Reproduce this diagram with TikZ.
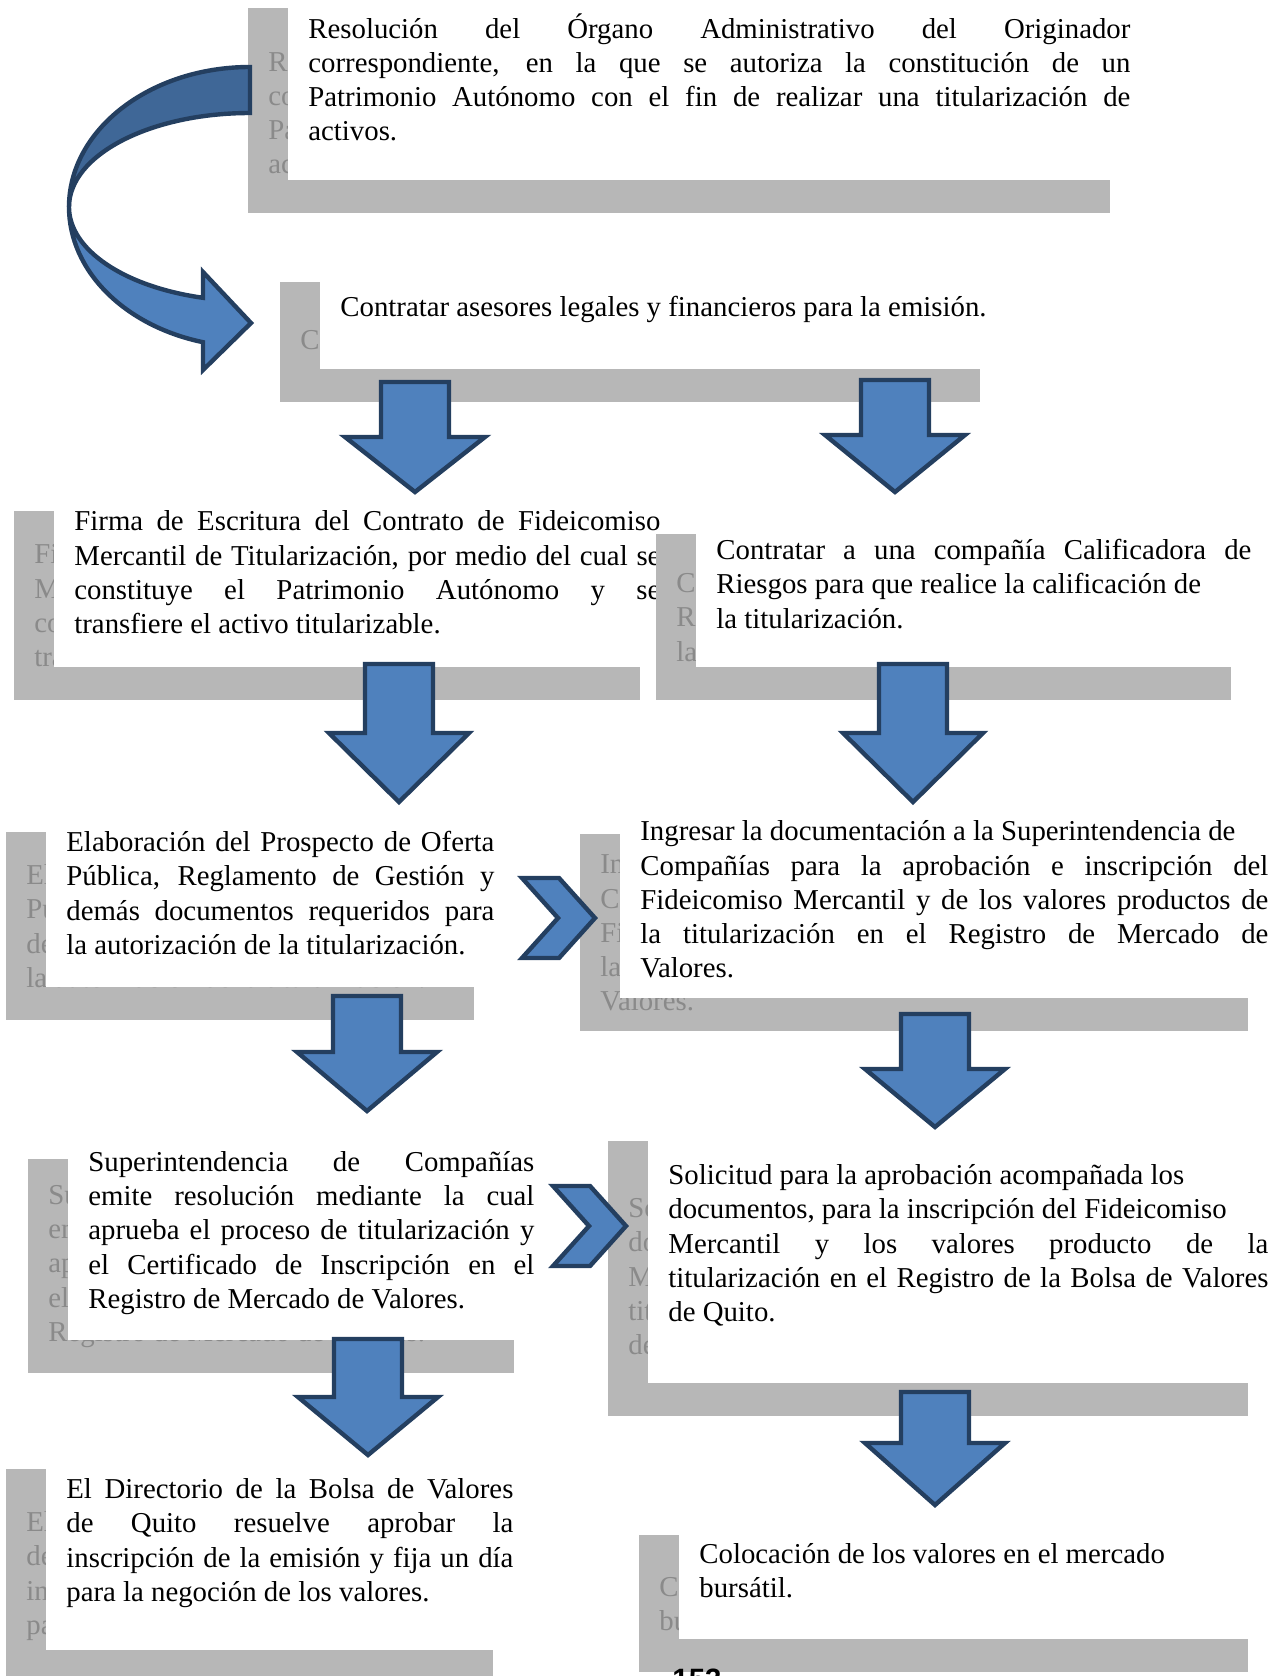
\documentclass[tikz,border=0pt]{standalone}
\usepackage{fontspec}
\setmainfont{Liberation Serif}
\newfontfamily\pagfont{Liberation Sans}
\definecolor{AzulPaso}{HTML}{4F81BD}
\definecolor{AzulOscuro}{HTML}{3F6797}
\definecolor{BordeAzul}{HTML}{243F60}
\definecolor{GrisSombra}{HTML}{B7B7B7}
\definecolor{GrisTexto}{HTML}{8A8A8A}
\newcommand\lj[1]{\makebox[\hsize][s]{#1}\\}
\tikzset{
  sombra/.style={fill=GrisSombra},
  texto/.style={inner sep=0pt,align=justify,font=\fontsize{14.4}{17.1}\selectfont},
  fantasma/.style={texto,text=GrisTexto},
  bloque/.style={draw=BordeAzul,line width=2.2pt,fill=AzulPaso,line join=miter}
}

\begin{document}
\begin{tikzpicture}[x=0.5pt,y=-0.5pt]
\useasboundingbox (0,0) rectangle (1280,1676);
% pasos: sombra gris con texto, caja blanca encima
\foreach \n/\x/\y/\w/\h/\txt in {
 1/288/-25/862/205/{\lj{Resolución del Órgano Administrativo del Originador}\lj{correspondiente, en la que se autoriza la constitución de un}\lj{Patrimonio Autónomo con el fin de realizar una titularización de}activos.},
 2/320/249/700/120/{Contratar asesores legales y financieros para la emisión.},
 3/54/478/626/189/{\lj{Firma de Escritura del Contrato de Fideicomiso}\lj{Mercantil de Titularización, por medio del cual se}\lj{constituye el Patrimonio Autónomo y se}transfiere el activo titularizable.},
 4/696/501/575/166/{\lj{Contratar a una compañía Calificadora de}Riesgos para que realice la calificación de\\la titularización.},
 5/46/799/468/188/{\lj{Elaboración del Prospecto de Oferta}\lj{Pública, Reglamento de Gestión y}\lj{demás documentos requeridos para}la autorización de la titularización.},
 6/620/801/668/197/{Ingresar la documentación a la Superintendencia de\\\lj{Compañías para la aprobación e inscripción del}\lj{Fideicomiso Mercantil y de los valores productos de}\lj{la titularización en el Registro de Mercado de}Valores.},
 7/68/1126/486/214/{\lj{Superintendencia de Compañías}\lj{emite resolución mediante la cual}\lj{aprueba el proceso de titularización y}\lj{el Certificado de Inscripción en el}Registro de Mercado de Valores.},
 8/648/1108/640/275/{Solicitud para la aprobación acompañada los\\documentos, para la inscripción del Fideicomiso\\\lj{Mercantil y los valores producto de la}\lj{titularización en el Registro de la Bolsa de Valores}de Quito.},
 9/46/1436/487/214/{\lj{El Directorio de la Bolsa de Valores}\lj{de Quito resuelve aprobar la}\lj{inscripción de la emisión y fija un día}para la negoción de los valores.},
 10/679/1502/609/137/{Colocación de los valores en el mercado\\bursátil.}}{
  \pgfmathsetmacro\tw{(\w-40)/2}
  \fill[sombra] (\x-40,\y+33) rectangle ++(\w,\h);
  \node[fantasma,text width=\tw pt,anchor=west] (g\n) at (\x-20,\y+33+\h/2) {\txt};
  \fill[white] (\x,\y) rectangle ++(\w,\h);
  \node[texto,text width=\tw pt,anchor=west] (p\n) at (\x+20,\y+\h/2) {\txt};
}
% flecha curva
\draw[bloque,fill=AzulOscuro] (250,67) arc[start angle=270,end angle=180,x radius=181,y radius=140]
  arc[start angle=180,end angle=270,x radius=181,y radius=94] -- cycle;
\draw[bloque] (69,207) arc[start angle=180,end angle=105.05,x radius=181,y radius=140]
  -- (203,370) -- (251,323) -- (203,272) -- (203,297.8)
  arc[start angle=105.05,end angle=180,x radius=181,y radius=94] -- cycle;
% chevrones
\foreach \cx/\cy in {522/878,553/1186}{
  \draw[bloque] (\cx,\cy) -- ++(37,0) -- ++(36,40) -- ++(-36,40) -- ++(-37,0) -- ++(36,-40) -- cycle;
}
% flechas hacia abajo
\foreach \cx/\ya/\yb/\yc in {415/382/437/492,895/380/435/492,399/664/733/802,913/664/733/802,
  367/996/1052/1111,935/1014/1069/1127,368/1339/1397/1455,935/1392/1443/1505}{
  \draw[bloque] (\cx-34,\ya) -- (\cx+34,\ya) -- (\cx+34,\yb) -- (\cx+70,\yb) -- (\cx,\yc)
    -- (\cx-70,\yb) -- (\cx-34,\yb) -- cycle;
}
\node[font=\pagfont\bfseries\fontsize{14.7}{17}\selectfont,anchor=north,inner sep=0pt] (pag) at (697,1669) {153};
\end{tikzpicture}
\end{document}
